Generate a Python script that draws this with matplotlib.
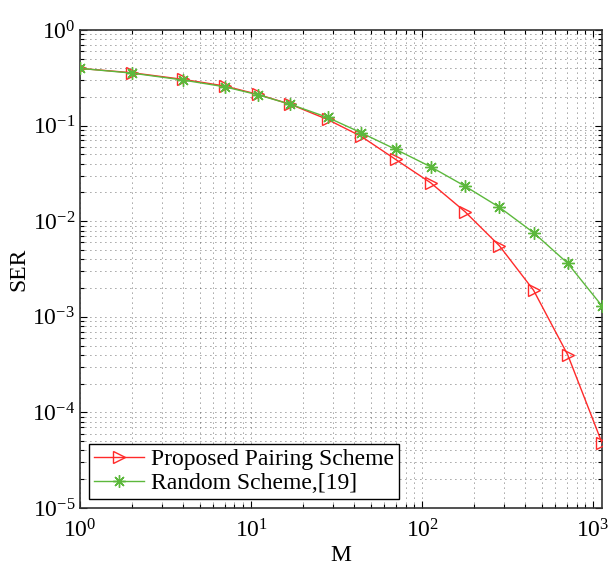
import matplotlib
matplotlib.use("Agg")
import matplotlib.pyplot as plt
from matplotlib.ticker import LogLocator, NullFormatter

M = [1, 2, 4, 7, 11, 17, 28, 44, 70, 112, 178, 283, 448, 710, 1126]
ser_proposed = [0.397, 0.358, 0.305, 0.26, 0.212, 0.167, 0.116, 0.0773, 0.0443,
                0.0253, 0.0126, 0.00554, 0.0019, 4.0e-4, 4.8e-5]
ser_random = [0.397, 0.355, 0.30, 0.255, 0.21, 0.167, 0.122, 0.0843, 0.0565,
              0.0372, 0.0233, 0.014, 0.0076, 0.00363, 0.0013]
labels = ["Proposed Pairing Scheme", "Random Scheme,[19]"]

plt.rcParams['font.family'] = ['Liberation Serif', 'DejaVu Serif']
plt.rcParams['mathtext.fontset'] = 'custom'
plt.rcParams['mathtext.rm'] = 'Liberation Serif'
plt.rcParams['mathtext.it'] = 'Liberation Serif:italic'

fig = plt.figure(figsize=(6.09, 5.67), dpi=100)
ax = fig.add_axes([0.1314, 0.104, 0.8571, 0.843])

red = '#ff2a2a'
green = '#5cb83c'
ax.plot(M, ser_proposed, color=red, lw=1.0, marker='>', markersize=9,
        markerfacecolor='none', markeredgecolor=red, markeredgewidth=1.0,
        label=labels[0], zorder=3)
ax.plot(M, ser_random, color=green, lw=1.0, marker=(8, 2, 0), markersize=9,
        markerfacecolor='none', markeredgecolor=green, markeredgewidth=1.0,
        label=labels[1], zorder=3)

ax.set_xscale('log')
ax.set_yscale('log')
ax.set_xlim(1, M[-1])
ax.set_ylim(1e-5, 1)

ax.xaxis.set_major_locator(LogLocator(base=10, numticks=10))
ax.xaxis.set_minor_locator(LogLocator(base=10, subs=range(2, 10), numticks=20))
ax.yaxis.set_major_locator(LogLocator(base=10, numticks=10))
ax.yaxis.set_minor_locator(LogLocator(base=10, subs=range(2, 10), numticks=20))
ax.xaxis.set_minor_formatter(NullFormatter())
ax.yaxis.set_minor_formatter(NullFormatter())

ax.grid(True, which='both', color='black', linestyle=(0, (1, 5)), linewidth=0.6, alpha=0.75)
ax.tick_params(which='both', direction='in', top=True, right=True, labelsize=17, width=0.8)
ax.tick_params(which='major', length=5)
ax.tick_params(which='minor', length=3)
ax.tick_params(axis='x', pad=8)
for s in ax.spines.values():
    s.set_linewidth(1.2)
    s.set_color('#333333')

ax.set_xlabel('M', fontsize=17, labelpad=2)
ax.set_ylabel('SER', fontsize=17, labelpad=2)

leg = ax.legend(loc='lower left', fontsize=17, frameon=True, fancybox=False,
                edgecolor='black', framealpha=1, borderpad=0.2, handlelength=2.1,
                handletextpad=0.3, labelspacing=0.1, borderaxespad=0.4)
leg.get_frame().set_linewidth(1.0)

fig.savefig('out.png', dpi=100)
